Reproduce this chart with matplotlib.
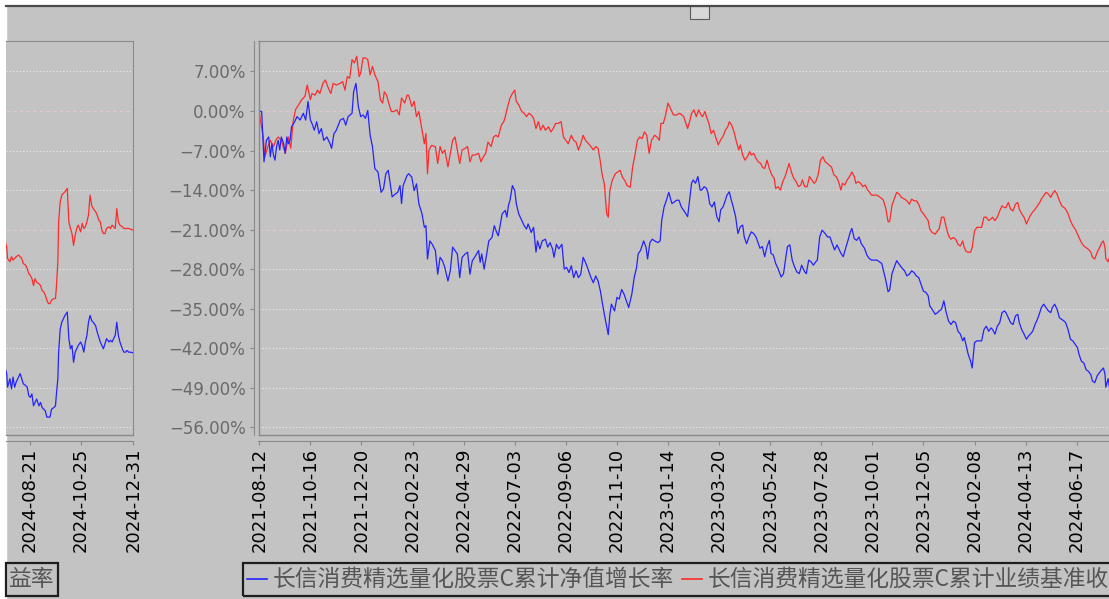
import numpy as np
import pandas as pd
import matplotlib
matplotlib.use("Agg")
import matplotlib.pyplot as plt
import matplotlib.dates as mdates
from matplotlib.patches import Rectangle
from matplotlib.lines import Line2D

# ---- data (days counted from 2021-08-12, values in %) ----
start = pd.Timestamp("2021-08-12")
end = pd.Timestamp("2024-12-31")

blue_day = [0, 3, 6, 9, 12, 14, 16, 18, 20, 22,
            24, 26, 28, 31, 33, 35, 37, 39, 41, 45,
            48, 52, 56, 59, 62, 65, 67, 70, 73, 76,
            79, 82, 86, 90, 92, 95, 98, 103, 107, 110,
            113, 118, 120, 123, 126, 129, 132, 135, 138, 141,
            144, 147, 151, 155, 158, 161, 164, 166, 169, 173,
            176, 179, 181, 183, 188, 190, 194, 197, 200, 203,
            207, 210, 212, 214, 217, 220, 224, 227, 230, 233,
            236, 240, 243, 246, 249, 252, 255, 258, 262, 265,
            268, 271, 274,
            279, 281, 283, 286, 289, 292, 296, 299, 302, 304,
            306, 309, 313, 315, 317, 319, 322, 325, 327, 330,
            334, 337, 340, 342, 346, 349, 352, 354, 357, 360,
            364, 367, 370, 373, 375, 378, 381, 385, 388, 391,
            394, 397, 400, 403, 406, 409, 412, 415, 419, 422,
            425, 428, 431, 434, 436, 439, 442, 444, 446, 448,
            452, 455, 458, 461, 464, 467, 470, 474, 477, 480,
            482, 485, 489, 492, 494, 497, 500, 503, 507, 510,
            512, 515, 518, 521, 525, 528, 531, 534, 537, 540,
            545, 548, 550, 552, 555, 558, 561, 563, 566, 569,
            571, 573, 576, 579, 582, 585, 587, 590, 593, 595,
            598, 600, 603, 606, 609, 612, 615, 617, 620, 623,
            626, 629, 632, 635, 637, 640, 643, 646, 649, 651,
            654, 657, 660, 664, 667, 670, 672, 675, 678, 681,
            684, 687, 690, 694, 696, 699, 702, 705, 708, 710,
            713, 716, 720, 723, 726, 729, 732, 735, 738, 740,
            743, 746, 749, 752, 754, 757, 760, 763, 766, 770,
            773, 776, 779, 783, 786, 789, 792, 794, 797, 800,
            802, 805, 808]
blue_pct = [0.0, -0.1, -9.0, -5.2, -4.6, -8.1, -5.8, -7.8, -8.7, -6.3,
            -5.2, -6.9, -4.6, -5.8, -7.5, -4.6, -5.8, -5.2, -2.8, -1.9,
            -1.0, -1.6, -0.4, -1.6, 1.7, -1.6, -2.2, -3.4, -1.9, -4.0,
            -3.1, -5.2, -4.6, -5.8, -6.6, -4.0, -3.4, -1.6, -1.3, -2.5,
            -1.0, -0.4, 3.4, 4.9, 0.8, -1.0, -0.7, -1.3, 0.1, -4.3,
            -6.3, -10.2, -10.8, -14.4, -13.8, -11.1, -10.5, -12.3, -15.2, -14.7,
            -14.4, -13.2, -16.4, -13.2, -11.4, -11.1, -11.7, -14.1, -12.9, -16.4,
            -18.2, -20.6, -20.3, -26.2, -23.0, -23.6, -24.7, -28.9, -25.9, -26.5,
            -27.7, -30.1, -28.3, -24.1, -24.7, -25.3, -29.5, -25.9, -25.3, -25.0,
            -28.9, -26.5, -25.9,
            -24.7, -26.8, -25.3, -28.0, -25.6, -23.0, -22.4, -20.3, -21.5, -22.1,
            -20.6, -18.2, -17.6, -18.8, -16.7, -15.8, -13.2, -14.1, -16.4, -18.2,
            -19.4, -20.3, -20.9, -20.0, -21.5, -20.6, -25.0, -23.0, -24.4, -23.0,
            -22.7, -24.1, -23.3, -24.4, -25.9, -23.6, -24.4, -23.6, -28.0, -27.7,
            -28.6, -27.4, -29.5, -28.3, -29.5, -28.9, -25.9, -26.8, -28.3, -29.5,
            -30.4, -29.2, -30.1, -31.9, -33.6, -36.0, -38.1, -39.6, -36.0, -34.2,
            -35.4, -33.0, -33.3, -31.6, -32.4, -33.6, -34.8, -32.4, -29.5, -27.7,
            -25.3, -24.7, -23.0, -24.1, -26.2, -23.3, -22.7, -23.0, -23.3, -23.0,
            -19.4, -17.0, -15.8, -14.4, -16.4, -16.1, -15.8, -15.8, -17.0, -17.6,
            -18.7, -15.2, -12.8, -12.2, -12.8, -11.6, -14.0, -14.0, -13.4, -13.7,
            -14.6, -16.4, -17.0, -16.1, -18.7, -19.6, -17.5, -17.0, -15.8, -14.9,
            -14.3, -15.5, -17.0, -18.7, -21.7, -20.5, -20.2, -22.3, -23.5, -22.3,
            -21.4, -21.7, -22.3, -23.5, -24.3, -24.0, -25.8, -24.0, -22.9, -25.2,
            -25.5, -27.0, -27.9, -29.4, -28.8, -25.8, -24.0, -23.7, -26.4, -27.6,
            -28.5, -28.8, -27.3, -28.5, -28.8, -26.4, -26.7, -27.3, -26.7, -26.4,
            -22.3, -21.1, -21.7, -22.3, -22.3, -23.5, -24.6, -23.7, -24.6, -25.2,
            -25.8, -24.3, -22.9, -21.4, -20.8, -22.6, -22.9, -22.3, -23.5, -24.3,
            -25.5, -26.1, -26.4, -26.4, -26.4, -26.7, -27.0, -28.2, -29.9, -32.0,
            -31.7, -28.8, -27.6]

red_day = [0, 1, 5, 7, 11, 14, 18, 21, 24, 28,
           33, 37, 40, 43, 46, 50, 54, 58, 61, 65,
           67, 71, 74, 77, 81, 84, 88, 91, 94, 98,
           103, 106, 109, 112, 115, 118, 121, 124, 127, 129,
           132, 135, 138, 141, 144, 147, 151, 154, 157, 159,
           162, 164, 168, 171, 175, 178, 181, 185, 188, 190,
           194, 197, 200, 203, 207, 210, 212, 214, 216, 219,
           224, 227, 230, 233, 236, 240, 243, 246, 249, 252,
           255, 258, 262, 265, 268, 271, 274,
           279, 282, 285, 288, 291, 295, 298, 301, 304, 308,
           311, 313, 316, 319, 322, 325, 327, 330, 334, 337,
           340, 343, 346, 349, 352, 355, 358, 361, 364, 368,
           371, 374, 377, 380, 384, 387, 390, 393, 397, 400,
           403, 406, 409, 412, 415, 419, 422, 425, 428, 431,
           434, 436, 439, 442, 444, 446, 449, 453, 456, 459,
           462, 465, 468, 472, 475, 478, 481, 484, 487, 490,
           493, 496, 499, 503, 506, 509, 511, 514, 517, 520,
           524, 527, 531, 535, 540,
           542, 545, 548, 550, 553, 556, 559, 562, 564, 567,
           569, 572, 575, 578, 581, 584, 587, 590, 593, 596,
           598, 601, 604, 607, 610, 612, 615, 618, 621, 624,
           626, 629, 632, 635, 638, 640, 643, 646, 649, 652,
           655, 657, 660, 663, 666, 669, 672, 674, 677, 680,
           683, 686, 689, 691, 694, 697, 700, 703, 706, 708,
           711, 714, 717, 720, 723, 725, 728, 731, 734, 737,
           740, 742, 745, 748, 751, 754, 757, 759, 762, 765,
           768, 771, 774, 776, 779, 783, 786, 789, 792, 794,
           797, 800, 802, 805, 808]
red_pct = [0.0, -1.3, -4.6, -8.1, -6.3, -5.2, -6.3, -5.2, -4.6, -5.2,
           -7.5, -4.6, -6.6, -1.9, 0.2, 1.1, 2.0, 2.6, 4.6, 2.0,
           3.1, 2.8, 3.7, 3.1, 4.9, 5.5, 4.0, 3.1, 4.9, 4.6,
           4.9, 5.2, 3.7, 6.1, 5.8, 9.1, 8.5, 9.7, 6.1, 6.7,
           9.4, 9.4, 9.1, 6.4, 7.9, 6.4, 5.2, 2.0, 1.4, 3.4,
           2.8, 1.7, -0.1, -0.1, 0.2, -0.7, 2.3, 1.4, 2.8, 2.8,
           0.8, 1.7, -1.0, -0.1, -3.4, -5.8, -4.0, -11.1, -6.9, -6.1,
           -6.3, -9.3, -6.3, -7.5, -6.9, -9.9, -7.5, -5.2, -4.6, -6.9,
           -9.3, -6.9, -6.6, -6.3, -9.0, -7.8, -7.8,
           -7.5, -9.0, -8.1, -7.5, -5.5, -6.3, -4.6, -4.3, -4.6, -2.5,
           -1.9, -1.0, 0.8, 2.3, 3.1, 3.7, 1.7, 1.1, -0.1, -0.4,
           -1.0, -0.4, -0.7, -1.3, -3.1, -1.9, -3.4, -2.5, -3.4, -2.8,
           -3.7, -3.1, -2.2, -2.2, -1.9, -4.6, -5.2, -5.8, -4.3, -5.2,
           -5.5, -6.9, -5.8, -4.3, -5.2, -5.8, -6.3, -6.9, -6.3, -6.6,
           -9.0, -11.1, -12.9, -18.2, -18.8, -14.1, -12.3, -11.1, -10.8, -10.5,
           -11.7, -12.3, -13.2, -13.5, -9.9, -7.8, -5.2, -4.6, -4.9, -3.7,
           -4.3, -7.5, -5.2, -4.3, -4.6, -5.2, -2.2, -2.2, -0.7, 1.4,
           0.2, -0.7, -0.7, -0.4, -1.0,
           -1.9, -3.1, -1.6, -0.4, 0.2, -1.0, 0.2, -0.7, -1.0, -0.1,
           -1.0, -2.2, -4.0, -3.4, -4.8, -6.0, -5.1, -4.5, -3.4, -2.8,
           -1.9, -2.5, -3.7, -5.4, -6.9, -6.0, -7.8, -8.7, -8.1, -7.2,
           -7.8, -7.5, -8.4, -9.0, -9.3, -9.9, -10.2, -8.7, -10.2, -11.3,
           -11.9, -13.7, -13.4, -14.0, -12.5, -11.6, -10.2, -9.3, -10.8, -11.9,
           -12.5, -13.4, -13.1, -12.2, -13.4, -13.4, -11.6, -12.2, -12.8, -12.5,
           -11.3, -8.7, -8.1, -9.0, -9.3, -9.6, -9.9, -11.3, -11.6, -12.5,
           -14.0, -12.8, -13.1, -12.2, -11.6, -10.8, -11.6, -12.8, -12.5, -12.8,
           -13.4, -13.1, -14.0, -14.3, -14.9, -14.9, -14.9, -15.2, -15.5, -15.8,
           -17.2, -19.6, -19.6, -16.7, -15.5]

# late part (late 2023 to end of 2024), same days for both series
late_day = [811, 814, 817, 821, 824, 827, 830, 833, 836, 839,
            842, 845, 848, 851, 853, 856, 860, 863, 865, 868,
            871, 874, 877, 880, 883, 886, 889, 892, 895, 897,
            899, 902, 905, 907, 910, 913, 916, 919, 922, 925,
            928, 931, 933, 936, 939, 942, 945, 948, 950, 953,
            956, 959, 962, 965, 967, 970, 973, 976, 979, 981,
            984, 987, 990, 993, 995, 998, 1001, 1004, 1007, 1009,
            1012, 1015, 1018, 1021, 1024, 1026, 1029, 1032, 1035, 1038,
            1041, 1043, 1046, 1049, 1052, 1055, 1058, 1060, 1063, 1066,
            1069, 1072, 1074, 1076,
            1077, 1080, 1082, 1084, 1086, 1088, 1091, 1093, 1095, 1097,
            1100, 1102, 1104, 1106, 1108, 1110, 1112, 1114, 1117, 1119,
            1121, 1123, 1125, 1127, 1129, 1131, 1133, 1136, 1138, 1139,
            1141, 1142, 1144, 1146, 1148, 1150, 1153, 1155, 1157, 1159,
            1161, 1163, 1165, 1167, 1170, 1172, 1174, 1176, 1178, 1180,
            1182, 1184, 1186, 1189, 1191, 1193, 1195, 1197, 1199, 1201,
            1203, 1206, 1208, 1210, 1212, 1214, 1216, 1218, 1220, 1223,
            1225, 1227, 1229, 1231, 1233, 1237]
late_blue = [-26.5, -27.1, -27.7, -28.3, -29.2, -28.9, -28.3, -28.6, -29.2, -29.5,
             -30.7, -31.9, -32.1, -32.7, -34.5, -35.1, -36.0, -35.7, -35.4, -35.1,
             -33.6, -35.7, -37.2, -37.8, -37.2, -37.5, -39.0, -39.5, -40.7, -40.1,
             -41.3, -43.1, -44.3, -45.5, -41.0, -40.7, -40.7, -40.7, -38.7, -38.1,
             -39.0, -38.4, -38.7, -39.5, -38.1, -37.5, -35.7, -35.4, -35.7, -36.6,
             -37.5, -37.8, -36.3, -36.0, -37.5, -38.7, -39.5, -40.4, -39.8, -39.5,
             -39.0, -37.8, -36.9, -35.7, -34.8, -34.2, -34.8, -35.4, -35.7, -34.8,
             -34.2, -35.1, -36.6, -36.9, -37.2, -37.5, -38.7, -40.4, -40.7, -41.3,
             -41.9, -43.1, -44.3, -44.6, -45.8, -46.1, -46.7, -47.8, -48.1, -46.9,
             -46.3, -45.8, -45.5, -46.6,
             -48.9, -47.4, -49.2, -47.1, -48.9, -48.0, -47.1, -46.5, -47.4, -48.3,
             -48.6, -48.9, -50.4, -50.7, -50.1, -52.2, -51.6, -51.0, -52.2, -51.6,
             -52.5, -52.8, -53.1, -54.2, -54.2, -54.2, -52.8, -52.5, -52.2, -50.4,
             -47.4, -42.7, -38.6, -37.4, -36.8, -36.2, -35.6, -40.3, -42.1, -41.5,
             -44.5, -42.7, -42.1, -41.5, -40.9, -41.5, -42.7, -40.9, -39.7, -37.4,
             -36.2, -37.1, -37.4, -38.0, -39.1, -40.0, -40.9, -41.5, -42.1, -41.2,
             -40.3, -40.9, -40.6, -40.9, -40.3, -39.7, -37.4, -39.7, -40.9, -42.1,
             -42.7, -42.7, -42.4, -42.7, -42.7, -42.8]
late_red = [-14.4, -14.7, -15.3, -15.6, -15.9, -16.5, -15.6, -15.9, -15.9, -16.5,
            -17.7, -18.2, -18.8, -19.4, -20.9, -21.5, -21.8, -21.2, -20.9, -18.8,
            -18.8, -20.6, -22.1, -22.7, -22.4, -22.7, -23.6, -23.9, -23.0, -24.2,
            -24.8, -25.0, -25.0, -24.2, -21.2, -20.6, -20.6, -20.6, -18.8, -18.8,
            -19.4, -19.1, -18.8, -19.4, -18.8, -17.7, -16.8, -17.1, -17.1, -16.2,
            -17.4, -17.7, -16.5, -16.2, -17.4, -18.2, -18.8, -20.0, -19.1, -18.5,
            -17.9, -17.4, -16.8, -16.2, -15.6, -15.0, -14.4, -14.7, -15.3, -14.7,
            -14.1, -14.7, -15.9, -16.8, -17.1, -17.4, -18.2, -19.4, -20.3, -20.9,
            -21.8, -22.4, -23.3, -23.9, -24.2, -24.5, -25.0, -25.9, -26.2, -25.0,
            -24.2, -23.3, -23.0, -24.2,
            -26.1, -26.7, -25.8, -26.4, -26.1, -25.8, -25.5, -25.8, -26.1, -27.0,
            -27.3, -27.9, -28.8, -29.1, -29.7, -30.9, -29.7, -30.3, -30.6, -30.9,
            -31.8, -32.0, -32.6, -33.5, -34.1, -34.1, -33.5, -33.2, -33.2, -31.5,
            -26.7, -19.6, -16.1, -14.9, -14.6, -14.3, -13.7, -19.6, -20.8, -21.7,
            -23.8, -22.0, -20.8, -20.2, -21.4, -19.9, -20.8, -20.5, -19.6, -18.4,
            -14.9, -16.7, -17.3, -17.8, -18.4, -19.3, -19.6, -21.1, -21.7, -21.7,
            -20.8, -20.5, -20.8, -20.2, -20.5, -20.8, -17.3, -19.6, -20.2, -20.5,
            -20.8, -20.8, -20.8, -20.8, -20.9, -21.1]

y_ticks = [7, 0, -7, -14, -21, -28, -35, -42, -49, -56]
series_names = ["长信消费精选量化股票C累计净值增长率", "长信消费精选量化股票C累计业绩基准收益率"]

# ---- build series ----
days_b = np.array(blue_day + late_day)
vals_b = np.array(blue_pct + late_blue)
days_r = np.array(red_day + late_day)
vals_r = np.array(red_pct + late_red)
dates_b = start + pd.to_timedelta(days_b, unit="D")
dates_r = start + pd.to_timedelta(days_r, unit="D")

W, H = 1109, 599
BG = "#c3c3c3"
EDGE = "#8a8a8a"
BLUE = "#2323ff"
RED = "#ff2b2b"
DAY_PX = 817.4 / 1040  # pixel per day on the time axis

def fx(px):
    return px / W

def fy(py):
    return 1 - py / H

plt.rcParams["font.family"] = ["DejaVu Sans"]
cjk = ["Noto Sans CJK SC", "DejaVu Sans"]

fig = plt.figure(figsize=(W / 100, H / 100), dpi=100)
fig.patch.set_facecolor(BG)

# white margins and the dark line on top
fig.add_artist(Rectangle((0, 0), fx(6), 1, transform=fig.transFigure, color="white", zorder=0))
fig.add_artist(Rectangle((0, fy(5)), 1, 5 / H, transform=fig.transFigure, color="white", zorder=0))
fig.add_artist(Line2D([fx(6), 1], [fy(5.5), fy(5.5)], transform=fig.transFigure, color="#4a4a4a", lw=1.6))
fig.add_artist(Rectangle((fx(690), fy(19)), fx(19), 13 / H, transform=fig.transFigure,
                         facecolor="#d8d8d8", edgecolor="#5a5a5a", lw=0.8))

top_px, bot_px = 40.5, 435
y_top = (111 - top_px) / 5.648
y_bot = (111 - bot_px) / 5.648
ylabels = [f"{v:.2f}%".replace("-", "\u2212") for v in y_ticks]


def style_axes(ax):
    ax.set_facecolor(BG)
    ax.set_ylim(y_bot, y_top)
    for v in y_ticks:
        if v in (0, -21):
            ax.axhline(v, color="#e4caca", lw=0.8, ls=(0, (3, 3)), zorder=1)
        else:
            ax.axhline(v, color="#ececec", lw=0.8, ls=(0, (1, 2)), zorder=1)
    ax.plot(dates_r, vals_r, color=RED, lw=0.9, zorder=3)
    ax.plot(dates_b, vals_b, color=BLUE, lw=0.9, zorder=4)
    ax.xaxis.set_major_formatter(mdates.DateFormatter("%Y-%m-%d"))
    ax.tick_params(axis="x", length=3, color=EDGE, labelsize=13, labelcolor="black",
                   labelrotation=90, pad=2)
    ax.spines["bottom"].set_position(("outward", 4.3))
    ax.spines["bottom"].set_color(EDGE)
    ax.spines["top"].set_color(EDGE)
    ax.spines["right"].set_color(EDGE)
    # plot-area bottom border
    ax.plot([0, 1], [0, 0], transform=ax.transAxes, color=EDGE, lw=1, clip_on=False, zorder=5)


# main panel (runs past the right edge of the picture)
left_px, right_px = 258.5, 1240
ax = fig.add_axes([fx(left_px), fy(bot_px), fx(right_px - left_px), (bot_px - top_px) / H])
style_axes(ax)
x0 = start + pd.Timedelta(days=(left_px - 259.3) / DAY_PX)
x1 = start + pd.Timedelta(days=(right_px - 259.3) / DAY_PX)
ax.set_xlim(x0, x1)
main_ticks = [start + pd.Timedelta(days=65 * k) for k in range(17)]
ax.set_xticks(main_ticks)
ax.spines["left"].set_position(("outward", 3.3))
ax.spines["left"].set_color(EDGE)
ax.plot([0, 0], [0, 1], transform=ax.transAxes, color=EDGE, lw=1, clip_on=False, zorder=5)
ax.set_yticks(y_ticks, ylabels)
ax.tick_params(axis="y", length=3, color=EDGE, labelsize=12, labelcolor="#6a6a6a", pad=3)

# left panel (tail of the same chart)
l0, l1 = 6, 133.3
ax2 = fig.add_axes([fx(l0), fy(bot_px), fx(l1 - l0), (bot_px - top_px) / H])
style_axes(ax2)
ax2.set_xlim(end - pd.Timedelta(days=(l1 - l0) / DAY_PX), end)
ax2.set_xticks([start + pd.Timedelta(days=1105), start + pd.Timedelta(days=1170), end])
ax2.spines["left"].set_visible(False)
ax2.set_yticks([])

# legends
fig.add_artist(Rectangle((fx(242.7), fy(596)), fx(1109 - 242.7 + 20), 33 / H,
                         transform=fig.transFigure, fill=False, ec="#1e1e1e", lw=1.6))
fig.add_artist(Line2D([fx(247), fx(267)], [fy(578.5)] * 2, transform=fig.transFigure, color=BLUE, lw=1.2))
fig.text(fx(273), fy(579), series_names[0], ha="left", va="center", fontsize=16.4,
         color="#555555", family=cjk)
fig.add_artist(Line2D([fx(682), fx(702)], [fy(578.5)] * 2, transform=fig.transFigure, color=RED, lw=1.2))
fig.text(fx(708), fy(579), series_names[1], ha="left", va="center", fontsize=16.4,
         color="#555555", family=cjk)

fig.add_artist(Rectangle((fx(6), fy(596)), fx(52), 33 / H,
                         transform=fig.transFigure, fill=False, ec="#1e1e1e", lw=1.6))
fig.text(fx(9), fy(579), series_names[1][-2:], ha="left", va="center", fontsize=16.4,
         color="#555555", family=cjk)

fig.savefig("out.png", dpi=100, facecolor=BG)
